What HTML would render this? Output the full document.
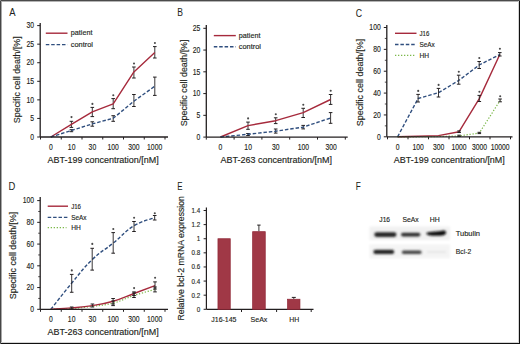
<!DOCTYPE html>
<html><head><meta charset="utf-8"><style>
html,body{margin:0;padding:0;background:#fff;}
body{width:520px;height:344px;overflow:hidden;position:relative;}
.frame{position:absolute;left:0;top:0;width:520px;height:344px;box-sizing:border-box;}
svg{position:absolute;left:0;top:0;}
svg text{font-family:"Liberation Sans", sans-serif;stroke:#231f20;stroke-width:0.15px;}
</style></head><body>
<svg width="520" height="344" viewBox="0 0 520 344">
<rect x="0" y="0" width="520" height="344" fill="#fff"/>
<text x="9.3" y="15.5" font-size="11" text-anchor="start" fill="#231f20" textLength="6.3" lengthAdjust="spacingAndGlyphs" style="stroke-width:0.05px">A</text>
<line x1="37.2" y1="137.0" x2="40.2" y2="137.0" stroke="#231f20" stroke-width="1" />
<text x="34.1" y="139.75" font-size="8.6" text-anchor="end" fill="#231f20" textLength="3.78" lengthAdjust="spacingAndGlyphs">0</text>
<line x1="37.2" y1="118.43333333333334" x2="40.2" y2="118.43333333333334" stroke="#231f20" stroke-width="1" />
<text x="34.1" y="121.18333333333334" font-size="8.6" text-anchor="end" fill="#231f20" textLength="3.78" lengthAdjust="spacingAndGlyphs">5</text>
<line x1="37.2" y1="99.86666666666667" x2="40.2" y2="99.86666666666667" stroke="#231f20" stroke-width="1" />
<text x="34.1" y="102.61666666666667" font-size="8.6" text-anchor="end" fill="#231f20" textLength="7.56" lengthAdjust="spacingAndGlyphs">10</text>
<line x1="37.2" y1="81.3" x2="40.2" y2="81.3" stroke="#231f20" stroke-width="1" />
<text x="34.1" y="84.05" font-size="8.6" text-anchor="end" fill="#231f20" textLength="7.56" lengthAdjust="spacingAndGlyphs">15</text>
<line x1="37.2" y1="62.733333333333334" x2="40.2" y2="62.733333333333334" stroke="#231f20" stroke-width="1" />
<text x="34.1" y="65.48333333333333" font-size="8.6" text-anchor="end" fill="#231f20" textLength="7.56" lengthAdjust="spacingAndGlyphs">20</text>
<line x1="37.2" y1="44.16666666666667" x2="40.2" y2="44.16666666666667" stroke="#231f20" stroke-width="1" />
<text x="34.1" y="46.91666666666667" font-size="8.6" text-anchor="end" fill="#231f20" textLength="7.56" lengthAdjust="spacingAndGlyphs">25</text>
<line x1="37.2" y1="25.599999999999994" x2="40.2" y2="25.599999999999994" stroke="#231f20" stroke-width="1" />
<text x="34.1" y="28.349999999999994" font-size="8.6" text-anchor="end" fill="#231f20" textLength="7.56" lengthAdjust="spacingAndGlyphs">30</text>
<line x1="40.5" y1="137.0" x2="40.5" y2="139.5" stroke="#231f20" stroke-width="1" />
<line x1="61.25" y1="137.0" x2="61.25" y2="139.5" stroke="#231f20" stroke-width="1" />
<line x1="82.0" y1="137.0" x2="82.0" y2="139.5" stroke="#231f20" stroke-width="1" />
<line x1="102.75" y1="137.0" x2="102.75" y2="139.5" stroke="#231f20" stroke-width="1" />
<line x1="123.5" y1="137.0" x2="123.5" y2="139.5" stroke="#231f20" stroke-width="1" />
<line x1="144.25" y1="137.0" x2="144.25" y2="139.5" stroke="#231f20" stroke-width="1" />
<line x1="165.0" y1="137.0" x2="165.0" y2="139.5" stroke="#231f20" stroke-width="1" />
<text x="50.9" y="150.0" font-size="8.6" text-anchor="middle" fill="#231f20" textLength="3.78" lengthAdjust="spacingAndGlyphs">0</text>
<text x="71.65" y="150.0" font-size="8.6" text-anchor="middle" fill="#231f20" textLength="7.56" lengthAdjust="spacingAndGlyphs">10</text>
<text x="92.4" y="150.0" font-size="8.6" text-anchor="middle" fill="#231f20" textLength="7.56" lengthAdjust="spacingAndGlyphs">30</text>
<text x="113.15" y="150.0" font-size="8.6" text-anchor="middle" fill="#231f20" textLength="11.34" lengthAdjust="spacingAndGlyphs">100</text>
<text x="133.9" y="150.0" font-size="8.6" text-anchor="middle" fill="#231f20" textLength="11.34" lengthAdjust="spacingAndGlyphs">300</text>
<text x="154.65" y="150.0" font-size="8.6" text-anchor="middle" fill="#231f20" textLength="15.12" lengthAdjust="spacingAndGlyphs">1000</text>
<text x="0" y="0" font-size="9.5" text-anchor="middle" fill="#231f20" textLength="86.8" lengthAdjust="spacingAndGlyphs" transform="translate(20.2,79.75) rotate(-90)">Specific cell death/[%]</text>
<text x="47.5" y="162.5" font-size="9" fill="#231f20" textLength="111.3" lengthAdjust="spacingAndGlyphs">ABT-199 concentration/[nM]</text>
<line x1="45.8" y1="33.2" x2="67.5" y2="33.2" stroke="#a62a3c" stroke-width="1.4" />
<text x="70.8" y="35.3" font-size="7.2" text-anchor="start" fill="#231f20" textLength="21.6" lengthAdjust="spacingAndGlyphs">patient</text>
<line x1="45.8" y1="44.6" x2="67.5" y2="44.6" stroke="#2f4e7e" stroke-width="1.4" stroke-dasharray="3.5,1.9"/>
<text x="70.8" y="46.7" font-size="7.2" text-anchor="start" fill="#231f20" textLength="22.2" lengthAdjust="spacingAndGlyphs">control</text>
<line x1="71.4" y1="121.3" x2="71.4" y2="127.4" stroke="#231f20" stroke-width="0.9" />
<line x1="69.60000000000001" y1="121.3" x2="73.2" y2="121.3" stroke="#231f20" stroke-width="1.0" />
<line x1="69.60000000000001" y1="127.4" x2="73.2" y2="127.4" stroke="#231f20" stroke-width="1.0" />
<line x1="92.3" y1="107.4" x2="92.3" y2="116.6" stroke="#231f20" stroke-width="0.9" />
<line x1="90.5" y1="107.4" x2="94.1" y2="107.4" stroke="#231f20" stroke-width="1.0" />
<line x1="90.5" y1="116.6" x2="94.1" y2="116.6" stroke="#231f20" stroke-width="1.0" />
<line x1="113.2" y1="98.6" x2="113.2" y2="108.7" stroke="#231f20" stroke-width="0.9" />
<line x1="111.4" y1="98.6" x2="115.0" y2="98.6" stroke="#231f20" stroke-width="1.0" />
<line x1="111.4" y1="108.7" x2="115.0" y2="108.7" stroke="#231f20" stroke-width="1.0" />
<line x1="133.9" y1="67" x2="133.9" y2="78" stroke="#231f20" stroke-width="0.9" />
<line x1="132.1" y1="67" x2="135.70000000000002" y2="67" stroke="#231f20" stroke-width="1.0" />
<line x1="132.1" y1="78" x2="135.70000000000002" y2="78" stroke="#231f20" stroke-width="1.0" />
<line x1="154.8" y1="46.6" x2="154.8" y2="58" stroke="#231f20" stroke-width="0.9" />
<line x1="153.0" y1="46.6" x2="156.60000000000002" y2="46.6" stroke="#231f20" stroke-width="1.0" />
<line x1="153.0" y1="58" x2="156.60000000000002" y2="58" stroke="#231f20" stroke-width="1.0" />
<line x1="71.4" y1="129.7" x2="71.4" y2="131.7" stroke="#231f20" stroke-width="0.9" />
<line x1="69.60000000000001" y1="129.7" x2="73.2" y2="129.7" stroke="#231f20" stroke-width="1.0" />
<line x1="69.60000000000001" y1="131.7" x2="73.2" y2="131.7" stroke="#231f20" stroke-width="1.0" />
<line x1="92.3" y1="121.8" x2="92.3" y2="126.2" stroke="#231f20" stroke-width="0.9" />
<line x1="90.5" y1="121.8" x2="94.1" y2="121.8" stroke="#231f20" stroke-width="1.0" />
<line x1="90.5" y1="126.2" x2="94.1" y2="126.2" stroke="#231f20" stroke-width="1.0" />
<line x1="113.2" y1="115.7" x2="113.2" y2="121.3" stroke="#231f20" stroke-width="0.9" />
<line x1="111.4" y1="115.7" x2="115.0" y2="115.7" stroke="#231f20" stroke-width="1.0" />
<line x1="111.4" y1="121.3" x2="115.0" y2="121.3" stroke="#231f20" stroke-width="1.0" />
<line x1="133.9" y1="94.5" x2="133.9" y2="106.5" stroke="#231f20" stroke-width="0.9" />
<line x1="132.1" y1="94.5" x2="135.70000000000002" y2="94.5" stroke="#231f20" stroke-width="1.0" />
<line x1="132.1" y1="106.5" x2="135.70000000000002" y2="106.5" stroke="#231f20" stroke-width="1.0" />
<line x1="154.8" y1="77.1" x2="154.8" y2="95.4" stroke="#231f20" stroke-width="0.9" />
<line x1="153.0" y1="77.1" x2="156.60000000000002" y2="77.1" stroke="#231f20" stroke-width="1.0" />
<line x1="153.0" y1="95.4" x2="156.60000000000002" y2="95.4" stroke="#231f20" stroke-width="1.0" />
<polyline points="50.8,137 71.4,124.4 92.3,111.9 113.2,103.9 133.9,71.9 154.8,52.5" fill="none" stroke="#a62a3c" stroke-width="1.4" stroke-linejoin="round" />
<polyline points="50.8,137 71.4,130.5 92.3,123.9 113.2,118.3 133.9,101.2 154.8,86.2" fill="none" stroke="#2f4e7e" stroke-width="1.4" stroke-linejoin="round" stroke-dasharray="3.5,1.9"/>
<circle cx="71.5" cy="117.1" r="1.05" fill="#4a4a4a"/>
<circle cx="92.39999999999999" cy="103.9" r="1.05" fill="#4a4a4a"/>
<circle cx="113.3" cy="95.3" r="1.05" fill="#4a4a4a"/>
<circle cx="134.0" cy="63.5" r="1.05" fill="#4a4a4a"/>
<circle cx="154.9" cy="43" r="1.05" fill="#4a4a4a"/>
<text x="177.3" y="15.5" font-size="11" text-anchor="start" fill="#231f20" textLength="5.7" lengthAdjust="spacingAndGlyphs" style="stroke-width:0.05px">B</text>
<line x1="203.3" y1="137.1" x2="206.3" y2="137.1" stroke="#231f20" stroke-width="1" />
<text x="200.20000000000002" y="139.85" font-size="8.6" text-anchor="end" fill="#231f20" textLength="3.78" lengthAdjust="spacingAndGlyphs">0</text>
<line x1="203.3" y1="115.33999999999999" x2="206.3" y2="115.33999999999999" stroke="#231f20" stroke-width="1" />
<text x="200.20000000000002" y="118.08999999999999" font-size="8.6" text-anchor="end" fill="#231f20" textLength="3.78" lengthAdjust="spacingAndGlyphs">5</text>
<line x1="203.3" y1="93.57999999999998" x2="206.3" y2="93.57999999999998" stroke="#231f20" stroke-width="1" />
<text x="200.20000000000002" y="96.32999999999998" font-size="8.6" text-anchor="end" fill="#231f20" textLength="7.56" lengthAdjust="spacingAndGlyphs">10</text>
<line x1="203.3" y1="71.82" x2="206.3" y2="71.82" stroke="#231f20" stroke-width="1" />
<text x="200.20000000000002" y="74.57" font-size="8.6" text-anchor="end" fill="#231f20" textLength="7.56" lengthAdjust="spacingAndGlyphs">15</text>
<line x1="203.3" y1="50.05999999999999" x2="206.3" y2="50.05999999999999" stroke="#231f20" stroke-width="1" />
<text x="200.20000000000002" y="52.80999999999999" font-size="8.6" text-anchor="end" fill="#231f20" textLength="7.56" lengthAdjust="spacingAndGlyphs">20</text>
<line x1="203.3" y1="28.299999999999983" x2="206.3" y2="28.299999999999983" stroke="#231f20" stroke-width="1" />
<text x="200.20000000000002" y="31.049999999999983" font-size="8.6" text-anchor="end" fill="#231f20" textLength="7.56" lengthAdjust="spacingAndGlyphs">25</text>
<line x1="206.3" y1="137.1" x2="206.3" y2="139.6" stroke="#231f20" stroke-width="1" />
<line x1="234.10000000000002" y1="137.1" x2="234.10000000000002" y2="139.6" stroke="#231f20" stroke-width="1" />
<line x1="261.90000000000003" y1="137.1" x2="261.90000000000003" y2="139.6" stroke="#231f20" stroke-width="1" />
<line x1="289.70000000000005" y1="137.1" x2="289.70000000000005" y2="139.6" stroke="#231f20" stroke-width="1" />
<line x1="317.5" y1="137.1" x2="317.5" y2="139.6" stroke="#231f20" stroke-width="1" />
<line x1="345.3" y1="137.1" x2="345.3" y2="139.6" stroke="#231f20" stroke-width="1" />
<text x="220.5" y="150.0" font-size="8.6" text-anchor="middle" fill="#231f20" textLength="3.78" lengthAdjust="spacingAndGlyphs">0</text>
<text x="248.15" y="150.0" font-size="8.6" text-anchor="middle" fill="#231f20" textLength="7.56" lengthAdjust="spacingAndGlyphs">10</text>
<text x="275.8" y="150.0" font-size="8.6" text-anchor="middle" fill="#231f20" textLength="7.56" lengthAdjust="spacingAndGlyphs">30</text>
<text x="303.45" y="150.0" font-size="8.6" text-anchor="middle" fill="#231f20" textLength="11.34" lengthAdjust="spacingAndGlyphs">100</text>
<text x="331.1" y="150.0" font-size="8.6" text-anchor="middle" fill="#231f20" textLength="11.34" lengthAdjust="spacingAndGlyphs">300</text>
<text x="0" y="0" font-size="9.5" text-anchor="middle" fill="#231f20" textLength="86.8" lengthAdjust="spacingAndGlyphs" transform="translate(186.5,82.95) rotate(-90)">Specific cell death/[%]</text>
<text x="220.5" y="162.5" font-size="9" fill="#231f20" textLength="111.5" lengthAdjust="spacingAndGlyphs">ABT-263 concentration/[nM]</text>
<line x1="213.8" y1="35.6" x2="235.8" y2="35.6" stroke="#a62a3c" stroke-width="1.4" />
<text x="238.8" y="37.7" font-size="7.2" text-anchor="start" fill="#231f20" textLength="21.6" lengthAdjust="spacingAndGlyphs">patient</text>
<line x1="213.8" y1="46.8" x2="235.8" y2="46.8" stroke="#2f4e7e" stroke-width="1.4" stroke-dasharray="3.5,1.9"/>
<text x="238.8" y="48.9" font-size="7.2" text-anchor="start" fill="#231f20" textLength="22.2" lengthAdjust="spacingAndGlyphs">control</text>
<line x1="248" y1="122.1" x2="248" y2="129.3" stroke="#231f20" stroke-width="0.9" />
<line x1="246.2" y1="122.1" x2="249.8" y2="122.1" stroke="#231f20" stroke-width="1.0" />
<line x1="246.2" y1="129.3" x2="249.8" y2="129.3" stroke="#231f20" stroke-width="1.0" />
<line x1="275.7" y1="117.8" x2="275.7" y2="123.6" stroke="#231f20" stroke-width="0.9" />
<line x1="273.9" y1="117.8" x2="277.5" y2="117.8" stroke="#231f20" stroke-width="1.0" />
<line x1="273.9" y1="123.6" x2="277.5" y2="123.6" stroke="#231f20" stroke-width="1.0" />
<line x1="303.2" y1="108.3" x2="303.2" y2="117.5" stroke="#231f20" stroke-width="0.9" />
<line x1="301.4" y1="108.3" x2="305.0" y2="108.3" stroke="#231f20" stroke-width="1.0" />
<line x1="301.4" y1="117.5" x2="305.0" y2="117.5" stroke="#231f20" stroke-width="1.0" />
<line x1="330.6" y1="94.5" x2="330.6" y2="104.4" stroke="#231f20" stroke-width="0.9" />
<line x1="328.8" y1="94.5" x2="332.40000000000003" y2="94.5" stroke="#231f20" stroke-width="1.0" />
<line x1="328.8" y1="104.4" x2="332.40000000000003" y2="104.4" stroke="#231f20" stroke-width="1.0" />
<line x1="248" y1="133.5" x2="248" y2="135.5" stroke="#231f20" stroke-width="0.9" />
<line x1="246.2" y1="133.5" x2="249.8" y2="133.5" stroke="#231f20" stroke-width="1.0" />
<line x1="246.2" y1="135.5" x2="249.8" y2="135.5" stroke="#231f20" stroke-width="1.0" />
<line x1="275.7" y1="129" x2="275.7" y2="133.1" stroke="#231f20" stroke-width="0.9" />
<line x1="273.9" y1="129" x2="277.5" y2="129" stroke="#231f20" stroke-width="1.0" />
<line x1="273.9" y1="133.1" x2="277.5" y2="133.1" stroke="#231f20" stroke-width="1.0" />
<line x1="303.2" y1="125.4" x2="303.2" y2="128.9" stroke="#231f20" stroke-width="0.9" />
<line x1="301.4" y1="125.4" x2="305.0" y2="125.4" stroke="#231f20" stroke-width="1.0" />
<line x1="301.4" y1="128.9" x2="305.0" y2="128.9" stroke="#231f20" stroke-width="1.0" />
<line x1="330.6" y1="112.6" x2="330.6" y2="123.3" stroke="#231f20" stroke-width="0.9" />
<line x1="328.8" y1="112.6" x2="332.40000000000003" y2="112.6" stroke="#231f20" stroke-width="1.0" />
<line x1="328.8" y1="123.3" x2="332.40000000000003" y2="123.3" stroke="#231f20" stroke-width="1.0" />
<polyline points="220.5,137 248,125.6 275.7,120.7 303.2,112.6 330.6,99.5" fill="none" stroke="#a62a3c" stroke-width="1.4" stroke-linejoin="round" />
<polyline points="220.5,137 248,134.3 275.7,131.2 303.2,127.1 330.6,118" fill="none" stroke="#2f4e7e" stroke-width="1.4" stroke-linejoin="round" stroke-dasharray="3.5,1.9"/>
<circle cx="248.1" cy="118.4" r="1.05" fill="#4a4a4a"/>
<circle cx="275.8" cy="114.3" r="1.05" fill="#4a4a4a"/>
<circle cx="303.3" cy="104.8" r="1.05" fill="#4a4a4a"/>
<circle cx="330.70000000000005" cy="90.8" r="1.05" fill="#4a4a4a"/>
<text x="355.8" y="17" font-size="11" text-anchor="start" fill="#231f20" textLength="6.3" lengthAdjust="spacingAndGlyphs" style="stroke-width:0.05px">C</text>
<line x1="383.8" y1="136.8" x2="386.8" y2="136.8" stroke="#231f20" stroke-width="1" />
<text x="380.7" y="139.55" font-size="8.6" text-anchor="end" fill="#231f20" textLength="3.78" lengthAdjust="spacingAndGlyphs">0</text>
<line x1="383.8" y1="114.94000000000001" x2="386.8" y2="114.94000000000001" stroke="#231f20" stroke-width="1" />
<text x="380.7" y="117.69000000000001" font-size="8.6" text-anchor="end" fill="#231f20" textLength="7.56" lengthAdjust="spacingAndGlyphs">20</text>
<line x1="383.8" y1="93.08000000000001" x2="386.8" y2="93.08000000000001" stroke="#231f20" stroke-width="1" />
<text x="380.7" y="95.83000000000001" font-size="8.6" text-anchor="end" fill="#231f20" textLength="7.56" lengthAdjust="spacingAndGlyphs">40</text>
<line x1="383.8" y1="71.22" x2="386.8" y2="71.22" stroke="#231f20" stroke-width="1" />
<text x="380.7" y="73.97" font-size="8.6" text-anchor="end" fill="#231f20" textLength="7.56" lengthAdjust="spacingAndGlyphs">60</text>
<line x1="383.8" y1="49.36" x2="386.8" y2="49.36" stroke="#231f20" stroke-width="1" />
<text x="380.7" y="52.11" font-size="8.6" text-anchor="end" fill="#231f20" textLength="7.56" lengthAdjust="spacingAndGlyphs">80</text>
<line x1="383.8" y1="27.499999999999986" x2="386.8" y2="27.499999999999986" stroke="#231f20" stroke-width="1" />
<text x="380.7" y="30.249999999999986" font-size="8.6" text-anchor="end" fill="#231f20" textLength="11.34" lengthAdjust="spacingAndGlyphs">100</text>
<line x1="384.8" y1="125.87" x2="386.8" y2="125.87" stroke="#231f20" stroke-width="0.8" />
<line x1="384.8" y1="104.01" x2="386.8" y2="104.01" stroke="#231f20" stroke-width="0.8" />
<line x1="384.8" y1="82.15" x2="386.8" y2="82.15" stroke="#231f20" stroke-width="0.8" />
<line x1="384.8" y1="60.28999999999999" x2="386.8" y2="60.28999999999999" stroke="#231f20" stroke-width="0.8" />
<line x1="384.8" y1="38.42999999999999" x2="386.8" y2="38.42999999999999" stroke="#231f20" stroke-width="0.8" />
<line x1="387.5" y1="136.8" x2="387.5" y2="139.3" stroke="#231f20" stroke-width="1" />
<line x1="408.0" y1="136.8" x2="408.0" y2="139.3" stroke="#231f20" stroke-width="1" />
<line x1="428.5" y1="136.8" x2="428.5" y2="139.3" stroke="#231f20" stroke-width="1" />
<line x1="449.0" y1="136.8" x2="449.0" y2="139.3" stroke="#231f20" stroke-width="1" />
<line x1="469.5" y1="136.8" x2="469.5" y2="139.3" stroke="#231f20" stroke-width="1" />
<line x1="490.0" y1="136.8" x2="490.0" y2="139.3" stroke="#231f20" stroke-width="1" />
<line x1="510.5" y1="136.8" x2="510.5" y2="139.3" stroke="#231f20" stroke-width="1" />
<text x="397.6" y="150.0" font-size="8.6" text-anchor="middle" fill="#231f20" textLength="3.78" lengthAdjust="spacingAndGlyphs">0</text>
<text x="418.1" y="150.0" font-size="8.6" text-anchor="middle" fill="#231f20" textLength="11.34" lengthAdjust="spacingAndGlyphs">100</text>
<text x="438.6" y="150.0" font-size="8.6" text-anchor="middle" fill="#231f20" textLength="11.34" lengthAdjust="spacingAndGlyphs">300</text>
<text x="459.1" y="150.0" font-size="8.6" text-anchor="middle" fill="#231f20" textLength="15.12" lengthAdjust="spacingAndGlyphs">1000</text>
<text x="479.6" y="150.0" font-size="8.6" text-anchor="middle" fill="#231f20" textLength="15.12" lengthAdjust="spacingAndGlyphs">3000</text>
<text x="500.1" y="150.0" font-size="8.6" text-anchor="middle" fill="#231f20" textLength="18.90" lengthAdjust="spacingAndGlyphs">10000</text>
<text x="0" y="0" font-size="9.5" text-anchor="middle" fill="#231f20" textLength="87.5" lengthAdjust="spacingAndGlyphs" transform="translate(362.8,82.5) rotate(-90)">Specific cell death/[%]</text>
<text x="393.8" y="162.5" font-size="9" fill="#231f20" textLength="111" lengthAdjust="spacingAndGlyphs">ABT-199 concentration/[nM]</text>
<line x1="395" y1="33.3" x2="416.5" y2="33.3" stroke="#a62a3c" stroke-width="1.4" />
<text x="419.5" y="35.8" font-size="7.2" text-anchor="start" fill="#231f20" textLength="9.8" lengthAdjust="spacingAndGlyphs">J16</text>
<line x1="395" y1="44.5" x2="416.5" y2="44.5" stroke="#2f4e7e" stroke-width="1.4" stroke-dasharray="3.5,1.9"/>
<text x="419.5" y="47.0" font-size="7.2" text-anchor="start" fill="#231f20" textLength="15.3" lengthAdjust="spacingAndGlyphs">SeAx</text>
<line x1="395" y1="55.3" x2="415" y2="55.3" stroke="#7cb84a" stroke-width="1.2" stroke-dasharray="1.3,1.7"/>
<text x="419.5" y="57.8" font-size="7.2" text-anchor="start" fill="#231f20" textLength="9.6" lengthAdjust="spacingAndGlyphs">HH</text>
<polyline points="397.6,136.8 418.1,136.3 438.5,135.6 459.1,131.7 479.3,98.6 499.8,54.5" fill="none" stroke="#a62a3c" stroke-width="1.4" stroke-linejoin="round" />
<polyline points="397.6,136.8 418.1,98.5 438.5,92.7 458.7,80.5 479.2,65 499.8,54.5" fill="none" stroke="#2f4e7e" stroke-width="1.4" stroke-linejoin="round" stroke-dasharray="3.5,1.9"/>
<polyline points="397.6,136.8 418.1,136.8 438.5,136.5 459.1,135.9 479.3,133 500.1,100.5" fill="none" stroke="#7cb84a" stroke-width="1.2" stroke-linejoin="round" stroke-dasharray="1.3,1.7"/>
<line x1="418.1" y1="94.4" x2="418.1" y2="102" stroke="#231f20" stroke-width="0.9" />
<line x1="416.3" y1="94.4" x2="419.90000000000003" y2="94.4" stroke="#231f20" stroke-width="1.0" />
<line x1="416.3" y1="102" x2="419.90000000000003" y2="102" stroke="#231f20" stroke-width="1.0" />
<line x1="438.5" y1="88.4" x2="438.5" y2="97" stroke="#231f20" stroke-width="0.9" />
<line x1="436.7" y1="88.4" x2="440.3" y2="88.4" stroke="#231f20" stroke-width="1.0" />
<line x1="436.7" y1="97" x2="440.3" y2="97" stroke="#231f20" stroke-width="1.0" />
<line x1="458.7" y1="75.2" x2="458.7" y2="84.2" stroke="#231f20" stroke-width="0.9" />
<line x1="456.9" y1="75.2" x2="460.5" y2="75.2" stroke="#231f20" stroke-width="1.0" />
<line x1="456.9" y1="84.2" x2="460.5" y2="84.2" stroke="#231f20" stroke-width="1.0" />
<line x1="479.2" y1="61.5" x2="479.2" y2="68.5" stroke="#231f20" stroke-width="0.9" />
<line x1="477.4" y1="61.5" x2="481.0" y2="61.5" stroke="#231f20" stroke-width="1.0" />
<line x1="477.4" y1="68.5" x2="481.0" y2="68.5" stroke="#231f20" stroke-width="1.0" />
<line x1="499.8" y1="52.6" x2="499.8" y2="56" stroke="#231f20" stroke-width="0.9" />
<line x1="498.0" y1="52.6" x2="501.6" y2="52.6" stroke="#231f20" stroke-width="1.0" />
<line x1="498.0" y1="56" x2="501.6" y2="56" stroke="#231f20" stroke-width="1.0" />
<circle cx="418.20000000000005" cy="90.9" r="1.05" fill="#4a4a4a"/>
<circle cx="438.6" cy="84.9" r="1.05" fill="#4a4a4a"/>
<circle cx="458.8" cy="71.7" r="1.05" fill="#4a4a4a"/>
<circle cx="479.3" cy="58" r="1.05" fill="#4a4a4a"/>
<circle cx="499.90000000000003" cy="48.7" r="1.05" fill="#4a4a4a"/>
<line x1="459.1" y1="130.9" x2="459.1" y2="132.5" stroke="#231f20" stroke-width="0.9" />
<line x1="457.3" y1="130.9" x2="460.90000000000003" y2="130.9" stroke="#231f20" stroke-width="1.0" />
<line x1="457.3" y1="132.5" x2="460.90000000000003" y2="132.5" stroke="#231f20" stroke-width="1.0" />
<line x1="479.3" y1="95.4" x2="479.3" y2="101.5" stroke="#231f20" stroke-width="0.9" />
<line x1="477.5" y1="95.4" x2="481.1" y2="95.4" stroke="#231f20" stroke-width="1.0" />
<line x1="477.5" y1="101.5" x2="481.1" y2="101.5" stroke="#231f20" stroke-width="1.0" />
<circle cx="479.40000000000003" cy="91.7" r="1.05" fill="#4a4a4a"/>
<line x1="459.1" y1="135.2" x2="459.1" y2="136.5" stroke="#231f20" stroke-width="0.9" />
<line x1="457.3" y1="135.2" x2="460.90000000000003" y2="135.2" stroke="#231f20" stroke-width="1.0" />
<line x1="457.3" y1="136.5" x2="460.90000000000003" y2="136.5" stroke="#231f20" stroke-width="1.0" />
<line x1="479.3" y1="132.3" x2="479.3" y2="133.6" stroke="#231f20" stroke-width="0.9" />
<line x1="477.5" y1="132.3" x2="481.1" y2="132.3" stroke="#231f20" stroke-width="1.0" />
<line x1="477.5" y1="133.6" x2="481.1" y2="133.6" stroke="#231f20" stroke-width="1.0" />
<line x1="500.1" y1="99" x2="500.1" y2="101.8" stroke="#231f20" stroke-width="0.9" />
<line x1="498.3" y1="99" x2="501.90000000000003" y2="99" stroke="#231f20" stroke-width="1.0" />
<line x1="498.3" y1="101.8" x2="501.90000000000003" y2="101.8" stroke="#231f20" stroke-width="1.0" />
<circle cx="500.20000000000005" cy="96.2" r="1.05" fill="#4a4a4a"/>
<text x="8.6" y="190" font-size="11" text-anchor="start" fill="#231f20" textLength="6.8" lengthAdjust="spacingAndGlyphs" style="stroke-width:0.05px">D</text>
<line x1="37.2" y1="309.3" x2="40.2" y2="309.3" stroke="#231f20" stroke-width="1" />
<text x="34.1" y="312.05" font-size="8.6" text-anchor="end" fill="#231f20" textLength="3.78" lengthAdjust="spacingAndGlyphs">0</text>
<line x1="37.2" y1="287.56" x2="40.2" y2="287.56" stroke="#231f20" stroke-width="1" />
<text x="34.1" y="290.31" font-size="8.6" text-anchor="end" fill="#231f20" textLength="7.56" lengthAdjust="spacingAndGlyphs">20</text>
<line x1="37.2" y1="265.82" x2="40.2" y2="265.82" stroke="#231f20" stroke-width="1" />
<text x="34.1" y="268.57" font-size="8.6" text-anchor="end" fill="#231f20" textLength="7.56" lengthAdjust="spacingAndGlyphs">40</text>
<line x1="37.2" y1="244.07999999999998" x2="40.2" y2="244.07999999999998" stroke="#231f20" stroke-width="1" />
<text x="34.1" y="246.82999999999998" font-size="8.6" text-anchor="end" fill="#231f20" textLength="7.56" lengthAdjust="spacingAndGlyphs">60</text>
<line x1="37.2" y1="222.34" x2="40.2" y2="222.34" stroke="#231f20" stroke-width="1" />
<text x="34.1" y="225.09" font-size="8.6" text-anchor="end" fill="#231f20" textLength="7.56" lengthAdjust="spacingAndGlyphs">80</text>
<line x1="37.2" y1="200.6" x2="40.2" y2="200.6" stroke="#231f20" stroke-width="1" />
<text x="34.1" y="203.35" font-size="8.6" text-anchor="end" fill="#231f20" textLength="11.34" lengthAdjust="spacingAndGlyphs">100</text>
<line x1="38.2" y1="298.43" x2="40.2" y2="298.43" stroke="#231f20" stroke-width="0.8" />
<line x1="38.2" y1="276.69" x2="40.2" y2="276.69" stroke="#231f20" stroke-width="0.8" />
<line x1="38.2" y1="254.95" x2="40.2" y2="254.95" stroke="#231f20" stroke-width="0.8" />
<line x1="38.2" y1="233.20999999999998" x2="40.2" y2="233.20999999999998" stroke="#231f20" stroke-width="0.8" />
<line x1="38.2" y1="211.47" x2="40.2" y2="211.47" stroke="#231f20" stroke-width="0.8" />
<line x1="40.5" y1="309.3" x2="40.5" y2="311.8" stroke="#231f20" stroke-width="1" />
<line x1="61.25" y1="309.3" x2="61.25" y2="311.8" stroke="#231f20" stroke-width="1" />
<line x1="82.0" y1="309.3" x2="82.0" y2="311.8" stroke="#231f20" stroke-width="1" />
<line x1="102.75" y1="309.3" x2="102.75" y2="311.8" stroke="#231f20" stroke-width="1" />
<line x1="123.5" y1="309.3" x2="123.5" y2="311.8" stroke="#231f20" stroke-width="1" />
<line x1="144.25" y1="309.3" x2="144.25" y2="311.8" stroke="#231f20" stroke-width="1" />
<line x1="165.0" y1="309.3" x2="165.0" y2="311.8" stroke="#231f20" stroke-width="1" />
<text x="50.9" y="322.2" font-size="8.6" text-anchor="middle" fill="#231f20" textLength="3.78" lengthAdjust="spacingAndGlyphs">0</text>
<text x="71.65" y="322.2" font-size="8.6" text-anchor="middle" fill="#231f20" textLength="7.56" lengthAdjust="spacingAndGlyphs">10</text>
<text x="92.4" y="322.2" font-size="8.6" text-anchor="middle" fill="#231f20" textLength="7.56" lengthAdjust="spacingAndGlyphs">30</text>
<text x="113.15" y="322.2" font-size="8.6" text-anchor="middle" fill="#231f20" textLength="11.34" lengthAdjust="spacingAndGlyphs">100</text>
<text x="133.9" y="322.2" font-size="8.6" text-anchor="middle" fill="#231f20" textLength="11.34" lengthAdjust="spacingAndGlyphs">300</text>
<text x="154.65" y="322.2" font-size="8.6" text-anchor="middle" fill="#231f20" textLength="15.12" lengthAdjust="spacingAndGlyphs">1000</text>
<text x="0" y="0" font-size="9.5" text-anchor="middle" fill="#231f20" textLength="87.4" lengthAdjust="spacingAndGlyphs" transform="translate(15.6,255.6) rotate(-90)">Specific cell death/[%]</text>
<text x="47.5" y="334.8" font-size="9" fill="#231f20" textLength="111.3" lengthAdjust="spacingAndGlyphs">ABT-263 concentration/[nM]</text>
<line x1="47.7" y1="206.2" x2="68" y2="206.2" stroke="#a62a3c" stroke-width="1.4" />
<text x="71.2" y="208.7" font-size="7.2" text-anchor="start" fill="#231f20" textLength="9.8" lengthAdjust="spacingAndGlyphs">J16</text>
<line x1="47.7" y1="217.4" x2="68" y2="217.4" stroke="#2f4e7e" stroke-width="1.4" stroke-dasharray="3.5,1.9"/>
<text x="71.2" y="219.9" font-size="7.2" text-anchor="start" fill="#231f20" textLength="15.3" lengthAdjust="spacingAndGlyphs">SeAx</text>
<line x1="47.7" y1="227.7" x2="66.5" y2="227.7" stroke="#7cb84a" stroke-width="1.2" stroke-dasharray="1.3,1.7"/>
<text x="71.2" y="230.2" font-size="7.2" text-anchor="start" fill="#231f20" textLength="9.6" lengthAdjust="spacingAndGlyphs">HH</text>
<path d="M50.9,309.3 C55.41,303.62 62.75,293.87 71.7,283.1 C80.65,272.33 83.21,268.27 92.2,259.6 C101.19,250.93 104.14,250.43 113.2,243.1 C122.26,235.77 125.01,231.24 134,225.75 C142.99,220.26 150.22,219.48 154.7,217.75" fill="none" stroke="#2f4e7e" stroke-width="1.4" stroke-dasharray="3.5,1.9"/>
<path d="M50.9,309.3 C55.41,309.13 62.71,309.13 71.7,308.5 C80.69,307.87 83.43,307.57 92.4,306.4 C101.37,305.23 104.09,305.46 113.1,303.1 C122.11,300.74 124.92,298.47 134,295.5 C143.08,292.53 150.45,290.72 155,289.4" fill="none" stroke="#7cb84a" stroke-width="1.2" stroke-dasharray="1.3,1.7"/>
<path d="M50.9,309.3 C55.41,309.00 62.71,308.70 71.7,307.9 C80.69,307.10 83.43,307.04 92.4,305.6 C101.37,304.16 104.09,303.87 113.1,301.25 C122.11,298.63 124.92,296.89 134,293.5 C143.08,290.11 150.45,287.31 155,285.6" fill="none" stroke="#a62a3c" stroke-width="1.4" />
<line x1="71.7" y1="274.4" x2="71.7" y2="292.25" stroke="#231f20" stroke-width="0.9" />
<line x1="69.9" y1="274.4" x2="73.5" y2="274.4" stroke="#231f20" stroke-width="1.0" />
<line x1="69.9" y1="292.25" x2="73.5" y2="292.25" stroke="#231f20" stroke-width="1.0" />
<line x1="92.2" y1="248.3" x2="92.2" y2="270.1" stroke="#231f20" stroke-width="0.9" />
<line x1="90.4" y1="248.3" x2="94.0" y2="248.3" stroke="#231f20" stroke-width="1.0" />
<line x1="90.4" y1="270.1" x2="94.0" y2="270.1" stroke="#231f20" stroke-width="1.0" />
<line x1="113.2" y1="232.6" x2="113.2" y2="253.2" stroke="#231f20" stroke-width="0.9" />
<line x1="111.4" y1="232.6" x2="115.0" y2="232.6" stroke="#231f20" stroke-width="1.0" />
<line x1="111.4" y1="253.2" x2="115.0" y2="253.2" stroke="#231f20" stroke-width="1.0" />
<line x1="134" y1="221.5" x2="134" y2="231.5" stroke="#231f20" stroke-width="0.9" />
<line x1="132.2" y1="221.5" x2="135.8" y2="221.5" stroke="#231f20" stroke-width="1.0" />
<line x1="132.2" y1="231.5" x2="135.8" y2="231.5" stroke="#231f20" stroke-width="1.0" />
<line x1="154.7" y1="215.5" x2="154.7" y2="220" stroke="#231f20" stroke-width="0.9" />
<line x1="152.89999999999998" y1="215.5" x2="156.5" y2="215.5" stroke="#231f20" stroke-width="1.0" />
<line x1="152.89999999999998" y1="220" x2="156.5" y2="220" stroke="#231f20" stroke-width="1.0" />
<circle cx="71.8" cy="270.4" r="1.05" fill="#4a4a4a"/>
<circle cx="92.3" cy="243.9" r="1.05" fill="#4a4a4a"/>
<circle cx="113.3" cy="229" r="1.05" fill="#4a4a4a"/>
<circle cx="134.1" cy="217.75" r="1.05" fill="#4a4a4a"/>
<circle cx="154.79999999999998" cy="213.3" r="1.05" fill="#4a4a4a"/>
<line x1="71.7" y1="307" x2="71.7" y2="309" stroke="#231f20" stroke-width="0.9" />
<line x1="69.9" y1="307" x2="73.5" y2="307" stroke="#231f20" stroke-width="1.0" />
<line x1="69.9" y1="309" x2="73.5" y2="309" stroke="#231f20" stroke-width="1.0" />
<line x1="92.4" y1="304" x2="92.4" y2="307" stroke="#231f20" stroke-width="0.9" />
<line x1="90.60000000000001" y1="304" x2="94.2" y2="304" stroke="#231f20" stroke-width="1.0" />
<line x1="90.60000000000001" y1="307" x2="94.2" y2="307" stroke="#231f20" stroke-width="1.0" />
<line x1="113.1" y1="298.5" x2="113.1" y2="304" stroke="#231f20" stroke-width="0.9" />
<line x1="111.3" y1="298.5" x2="114.89999999999999" y2="298.5" stroke="#231f20" stroke-width="1.0" />
<line x1="111.3" y1="304" x2="114.89999999999999" y2="304" stroke="#231f20" stroke-width="1.0" />
<line x1="134" y1="291.9" x2="134" y2="295.5" stroke="#231f20" stroke-width="0.9" />
<line x1="132.2" y1="291.9" x2="135.8" y2="291.9" stroke="#231f20" stroke-width="1.0" />
<line x1="132.2" y1="295.5" x2="135.8" y2="295.5" stroke="#231f20" stroke-width="1.0" />
<line x1="155" y1="281.9" x2="155" y2="289" stroke="#231f20" stroke-width="0.9" />
<line x1="153.2" y1="281.9" x2="156.8" y2="281.9" stroke="#231f20" stroke-width="1.0" />
<line x1="153.2" y1="289" x2="156.8" y2="289" stroke="#231f20" stroke-width="1.0" />
<circle cx="134.1" cy="288.1" r="1.05" fill="#4a4a4a"/>
<circle cx="155.1" cy="277.75" r="1.05" fill="#4a4a4a"/>
<line x1="113.1" y1="301" x2="113.1" y2="305.6" stroke="#231f20" stroke-width="0.9" />
<line x1="111.3" y1="301" x2="114.89999999999999" y2="301" stroke="#231f20" stroke-width="1.0" />
<line x1="111.3" y1="305.6" x2="114.89999999999999" y2="305.6" stroke="#231f20" stroke-width="1.0" />
<line x1="134" y1="293" x2="134" y2="297.5" stroke="#231f20" stroke-width="0.9" />
<line x1="132.2" y1="293" x2="135.8" y2="293" stroke="#231f20" stroke-width="1.0" />
<line x1="132.2" y1="297.5" x2="135.8" y2="297.5" stroke="#231f20" stroke-width="1.0" />
<line x1="155" y1="287" x2="155" y2="291.9" stroke="#231f20" stroke-width="0.9" />
<line x1="153.2" y1="287" x2="156.8" y2="287" stroke="#231f20" stroke-width="1.0" />
<line x1="153.2" y1="291.9" x2="156.8" y2="291.9" stroke="#231f20" stroke-width="1.0" />
<text x="177.3" y="190" font-size="11" text-anchor="start" fill="#231f20" textLength="5.3" lengthAdjust="spacingAndGlyphs" style="stroke-width:0.05px">E</text>
<line x1="206.4" y1="207.6" x2="206.4" y2="309.3" stroke="#231f20" stroke-width="1.2" />
<line x1="203.6" y1="309.3" x2="206.4" y2="309.3" stroke="#231f20" stroke-width="1" />
<text x="200.3" y="311.80" font-size="7.6" text-anchor="end" fill="#231f20" textLength="3.50" lengthAdjust="spacingAndGlyphs">0</text>
<line x1="203.6" y1="295.1857142857143" x2="206.4" y2="295.1857142857143" stroke="#231f20" stroke-width="1" />
<text x="200.3" y="297.69" font-size="7.6" text-anchor="end" fill="#231f20" textLength="8.70" lengthAdjust="spacingAndGlyphs">0.2</text>
<line x1="203.6" y1="281.07142857142856" x2="206.4" y2="281.07142857142856" stroke="#231f20" stroke-width="1" />
<text x="200.3" y="283.57" font-size="7.6" text-anchor="end" fill="#231f20" textLength="8.70" lengthAdjust="spacingAndGlyphs">0.4</text>
<line x1="203.6" y1="266.95714285714286" x2="206.4" y2="266.95714285714286" stroke="#231f20" stroke-width="1" />
<text x="200.3" y="269.46" font-size="7.6" text-anchor="end" fill="#231f20" textLength="8.70" lengthAdjust="spacingAndGlyphs">0.6</text>
<line x1="203.6" y1="252.84285714285716" x2="206.4" y2="252.84285714285716" stroke="#231f20" stroke-width="1" />
<text x="200.3" y="255.34" font-size="7.6" text-anchor="end" fill="#231f20" textLength="8.70" lengthAdjust="spacingAndGlyphs">0.8</text>
<line x1="203.6" y1="238.72857142857143" x2="206.4" y2="238.72857142857143" stroke="#231f20" stroke-width="1" />
<text x="200.3" y="241.23" font-size="7.6" text-anchor="end" fill="#231f20" textLength="3.50" lengthAdjust="spacingAndGlyphs">1</text>
<line x1="203.6" y1="224.6142857142857" x2="206.4" y2="224.6142857142857" stroke="#231f20" stroke-width="1" />
<text x="200.3" y="227.11" font-size="7.6" text-anchor="end" fill="#231f20" textLength="8.70" lengthAdjust="spacingAndGlyphs">1.2</text>
<line x1="203.6" y1="210.5" x2="206.4" y2="210.5" stroke="#231f20" stroke-width="1" />
<text x="200.3" y="213.00" font-size="7.6" text-anchor="end" fill="#231f20" textLength="8.70" lengthAdjust="spacingAndGlyphs">1.4</text>
<line x1="206.4" y1="309.3" x2="313.5" y2="309.3" stroke="#231f20" stroke-width="1.2" />
<line x1="241.5" y1="309.3" x2="241.5" y2="312.0" stroke="#231f20" stroke-width="1" />
<line x1="276.6" y1="309.3" x2="276.6" y2="312.0" stroke="#231f20" stroke-width="1" />
<line x1="311.2" y1="309.3" x2="311.2" y2="312.0" stroke="#231f20" stroke-width="1" />
<rect x="217.95" y="238.73" width="12.30" height="70.57" fill="#a03846" stroke="#8f2535" stroke-width="0.7"/>
<rect x="252.65" y="231.67" width="12.60" height="77.63" fill="#a03846" stroke="#8f2535" stroke-width="0.7"/>
<rect x="287.55" y="299.21" width="12.40" height="10.09" fill="#a03846" stroke="#8f2535" stroke-width="0.7"/>
<line x1="258.9" y1="225.1" x2="258.9" y2="231.2" stroke="#231f20" stroke-width="0.9" />
<line x1="257.2" y1="225.1" x2="260.59999999999997" y2="225.1" stroke="#231f20" stroke-width="1.0" />
<line x1="293.8" y1="297.4" x2="293.8" y2="298.9" stroke="#231f20" stroke-width="0.9" />
<line x1="291.8" y1="297.4" x2="295.8" y2="297.4" stroke="#231f20" stroke-width="1.0" />
<text x="0" y="0" font-size="9.3" text-anchor="middle" fill="#231f20" textLength="124.3" lengthAdjust="spacingAndGlyphs" transform="translate(184.0,258.25) rotate(-90)">Relative bcl-2 mRNA expression</text>
<text x="211.3" y="322.4" font-size="7.4" text-anchor="start" fill="#231f20" textLength="25.2" lengthAdjust="spacingAndGlyphs">J16-145</text>
<text x="250.6" y="322.4" font-size="7.4" text-anchor="start" fill="#231f20" textLength="16.8" lengthAdjust="spacingAndGlyphs">SeAx</text>
<text x="289.3" y="322.4" font-size="7.4" text-anchor="start" fill="#231f20" textLength="9.9" lengthAdjust="spacingAndGlyphs">HH</text>
<text x="355.8" y="190" font-size="11" text-anchor="start" fill="#231f20" textLength="5.0" lengthAdjust="spacingAndGlyphs" style="stroke-width:0.05px">F</text>
<text x="379.3" y="221.8" font-size="8" text-anchor="start" fill="#231f20" textLength="10.8" lengthAdjust="spacingAndGlyphs">J16</text>
<text x="402.4" y="221.8" font-size="8" text-anchor="start" fill="#231f20" textLength="16.2" lengthAdjust="spacingAndGlyphs">SeAx</text>
<text x="429.7" y="221.8" font-size="8" text-anchor="start" fill="#231f20" textLength="10.0" lengthAdjust="spacingAndGlyphs">HH</text>
<text x="455.7" y="236.4" font-size="8" text-anchor="start" fill="#231f20" textLength="24.3" lengthAdjust="spacingAndGlyphs">Tubulin</text>
<text x="455.7" y="254.1" font-size="8" text-anchor="start" fill="#231f20" textLength="15.5" lengthAdjust="spacingAndGlyphs">Bcl-2</text>
<defs><filter id="bl" x="-30%" y="-150%" width="160%" height="400%"><feGaussianBlur stdDeviation="0.95"/></filter><filter id="bg" x="-10%" y="-30%" width="120%" height="160%"><feGaussianBlur stdDeviation="0.8"/></filter></defs>
<rect x="369.5" y="226.5" width="80.5" height="13.5" fill="#f1f1f1" filter="url(#bg)"/>
<rect x="369.5" y="244.5" width="80.5" height="13.8" fill="#f4f4f4" filter="url(#bg)"/>
<rect x="374.3" y="232.3" width="22.2" height="4.6" rx="2.3" fill="#262626" filter="url(#bl)"/>
<rect x="401" y="232.7" width="19.3" height="3.8" rx="1.9" fill="#2e2e2e" filter="url(#bl)"/>
<path d="M426.3,233.5 C426.3,231.5 438,231.7 443,230.5 C446.6,229.8 447.2,233.8 444.2,234.9 C439,236.4 426.3,236.2 426.3,233.5 Z" fill="#101010" filter="url(#bl)"/>
<rect x="373.4" y="249.8" width="20.8" height="4.2" rx="2.1" fill="#222" filter="url(#bl)"/>
<rect x="401.8" y="250.4" width="19.8" height="3.5" rx="1.7" fill="#444" filter="url(#bl)"/>
<rect x="427" y="251.2" width="19" height="1.6" rx="0.8" fill="#e2e2e2" filter="url(#bl)"/>
<line x1="40.2" y1="23" x2="40.2" y2="137" stroke="#231f20" stroke-width="1.3" />
<line x1="40.2" y1="137.0" x2="168" y2="137.0" stroke="#231f20" stroke-width="1.3" />
<line x1="206.3" y1="25" x2="206.3" y2="137.1" stroke="#231f20" stroke-width="1.3" />
<line x1="206.3" y1="137.1" x2="347.7" y2="137.1" stroke="#231f20" stroke-width="1.3" />
<line x1="386.8" y1="25" x2="386.8" y2="136.8" stroke="#231f20" stroke-width="1.3" />
<line x1="386.8" y1="136.8" x2="512.5" y2="136.8" stroke="#231f20" stroke-width="1.3" />
<line x1="40.2" y1="197" x2="40.2" y2="309.3" stroke="#231f20" stroke-width="1.3" />
<line x1="40.2" y1="309.3" x2="168" y2="309.3" stroke="#231f20" stroke-width="1.3" />
<g shape-rendering="crispEdges">
<rect x="1" y="1" width="518" height="1" fill="#b4b4b4"/>
<rect x="1" y="1" width="1" height="342" fill="#a8a8a8"/>
<rect x="518" y="1" width="1" height="342" fill="#d4d4d4"/>
<rect x="1" y="342" width="518" height="1" fill="#d4d4d4"/>
<rect x="0" y="0" width="519" height="1" fill="#4b4b4b"/>
<rect x="0" y="0" width="1" height="343" fill="#464646"/>
<rect x="519" y="1" width="1" height="343" fill="#101010"/>
<rect x="1" y="343" width="519" height="1" fill="#101010"/>
<rect x="0" y="0" width="1" height="1" fill="#8a8a8a"/>
<rect x="519" y="0" width="1" height="1" fill="#666"/>
<rect x="0" y="343" width="1" height="1" fill="#666"/>
</g>
</svg>
</body></html>
